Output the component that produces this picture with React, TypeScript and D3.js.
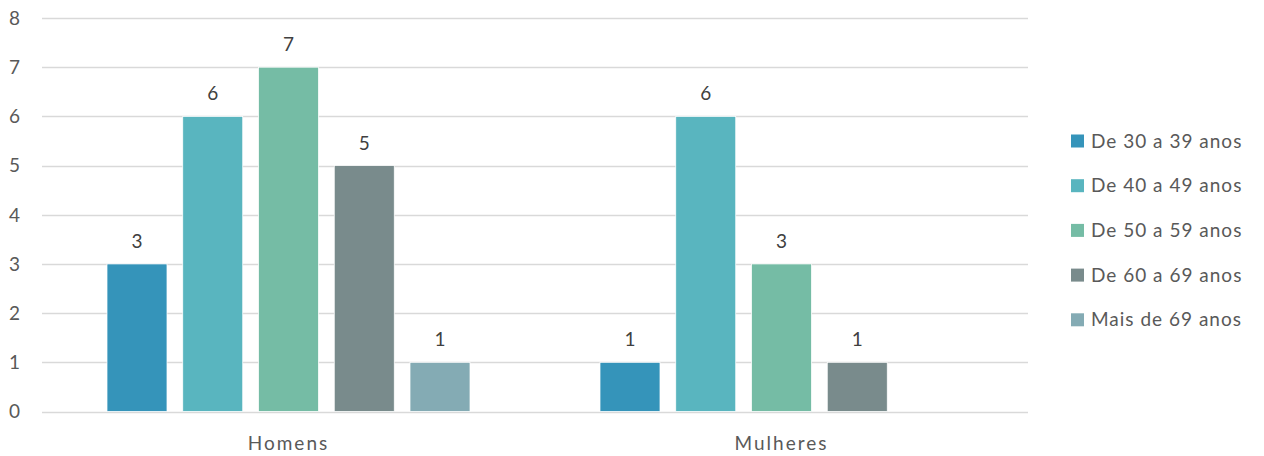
import React from "react";
import * as d3 from "d3";

const categories = ["Homens", "Mulheres"];
const seriesNames = [
  "De 30 a 39 anos",
  "De 40 a 49 anos",
  "De 50 a 59 anos",
  "De 60 a 69 anos",
  "Mais de 69 anos",
];
const seriesColors = ["#3594BA", "#59B5BF", "#75BCA5", "#798B8C", "#84ABB4"];
// values per series, in category order (null = no bar)
const homensValues = [3, 6, 7, 5, 1];
const mulheresValues: (number | null)[] = [1, 6, 3, 1, null];
const yTicks = [0, 1, 2, 3, 4, 5, 6, 7, 8];

const W = 1264;
const H = 456;
const FONT = "Lato, 'Open Sans', sans-serif";

export default function App() {
  const valuesByCategory = [homensValues, mulheresValues];

  const y = d3.scaleLinear().domain([0, 8]).range([411.5, 18]);
  const x0 = d3.scaleBand<string>().domain(categories).range([42, 1028]);
  const x1 = d3
    .scaleBand<string>()
    .domain(seriesNames)
    .range([0, x0.bandwidth()])
    .paddingInner(0.208)
    .paddingOuter(0.858);

  return (
    <svg
      width={W}
      height={H}
      style={{ position: "absolute", left: 0, top: 0, background: "#fff" }}
      fontFamily={FONT}
    >
      {/* gridlines and y tick labels */}
      {yTicks.map((t) => (
        <g key={t}>
          <line
            x1={42}
            x2={1028}
            y1={Math.round(y(t)) + 0.5}
            y2={Math.round(y(t)) + 0.5}
            stroke="#D9D9D9"
            strokeWidth={1.5}
          />
          <text
            x={20}
            y={y(t)}
            dy="0.36em"
            textAnchor="end"
            fontSize={19}
            fill="#595959"
          >
            {t}
          </text>
        </g>
      ))}

      {/* bars with value labels */}
      {categories.map((cat, ci) => (
        <g key={cat} transform={`translate(${x0(cat)},0)`}>
          {seriesNames.map((s, si) => {
            const v = valuesByCategory[ci][si];
            if (v === null || v === undefined) return null;
            const bx = x1(s)!;
            const bw = x1.bandwidth();
            return (
              <g key={s}>
                <rect
                  x={bx}
                  y={y(v)}
                  width={bw}
                  height={y(0) - y(v)}
                  fill={seriesColors[si]}
                  stroke="#fff"
                  strokeWidth={0.75}
                />
                <text
                  x={bx + bw / 2}
                  y={y(v) - 16}
                  textAnchor="middle"
                  fontSize={19}
                  fill="#404040"
                >
                  {v}
                </text>
              </g>
            );
          })}
          <text
            x={x0.bandwidth() / 2}
            y={450}
            textAnchor="middle"
            fontSize={19}
            letterSpacing={2}
            fill="#595959"
          >
            {cat}
          </text>
        </g>
      ))}

      {/* legend */}
      {seriesNames.map((s, i) => (
        <g key={s} transform={`translate(1071,${134.5 + i * 44.7})`}>
          <rect width={13} height={13} fill={seriesColors[i]} />
          <text
            x={20}
            y={13}
            fontSize={19}
            letterSpacing={1}
            fill="#595959"
          >
            {s}
          </text>
        </g>
      ))}
    </svg>
  );
}
